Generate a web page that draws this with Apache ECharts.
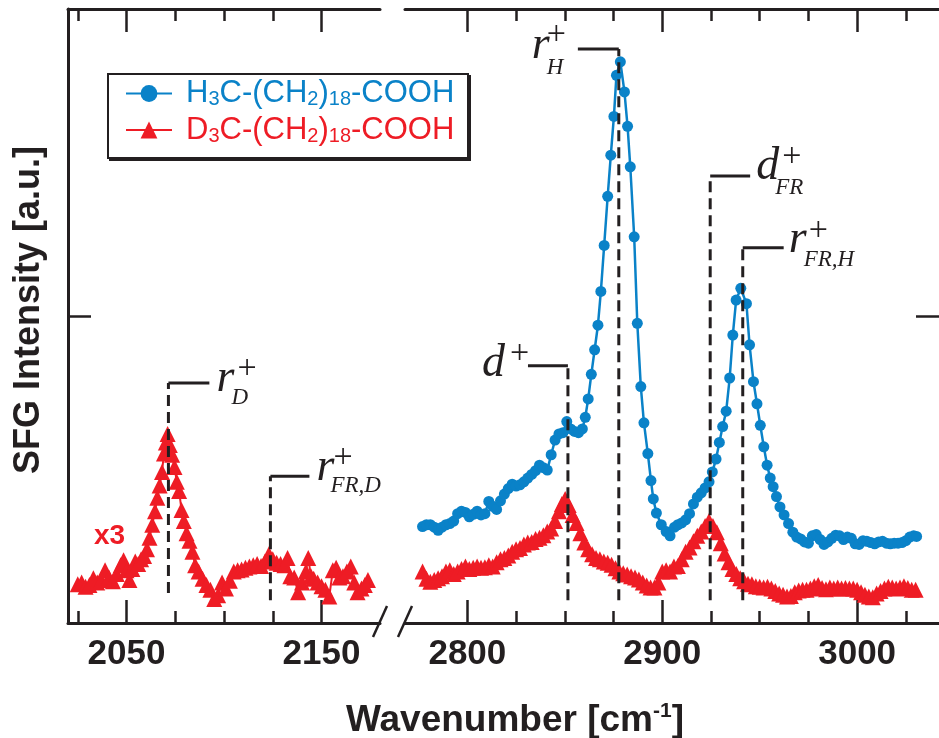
<!DOCTYPE html>
<html><head><meta charset="utf-8">
<script src="https://cdn.jsdelivr.net/npm/echarts@6/dist/echarts.min.js"></script>
<style>html,body{margin:0;padding:0;background:#fff}#c{width:939px;height:738px}</style>
</head><body><div id="c"></div>
<script>
// ---------------- data ----------------
const blueData = [
[2777,15.7],[2779,16.0],[2781,16.0],[2783,15.6],[2785,15.1],[2787,15.6],[2789,16.0],[2791,16.2],[2793,16.6],
[2795,17.8],[2797,18.2],[2799,18.0],[2801,17.3],[2803,17.7],[2805,18.2],[2807,17.6],[2809,17.8],[2811,19.8],
[2813,19.0],[2815,18.5],[2817,19.9],[2819,21.0],[2821,21.9],[2823,22.6],[2825,22.3],[2827,22.5],[2829,23.0],
[2831,23.6],[2833,24.2],[2835,24.8],[2837,25.7],[2839,25.3],[2841,24.9],[2843,27.4],[2845,29.8],[2847,30.8],
[2849,31.0],[2851,32.8],[2853,31.6],[2855,31.2],[2857,31.0],[2859,31.6],[2860.5,33.5],[2862,36.5],[2863.6,40.5],
[2865.3,44.5],[2867,48.5],[2868.5,54.0],[2870.2,61.5],[2872,69.5],[2873.6,76.2],[2875.2,82.5],[2876.5,89.2],
[2878.5,91.4],[2880.6,86.5],[2882.2,80.9],[2883.6,74.3],[2885.6,62.9],[2887.2,48.8],[2889,38.5],[2890.6,32.6],
[2892.6,27.6],[2894.2,23.2],[2895.4,20.2],[2897,17.9],[2899.5,16.0],[2902,14.9],[2904,14.2],[2906.3,15.6],
[2908,16.0],[2910,16.3],[2912,16.8],[2914,17.8],[2916,19.4],[2918,20.5],[2920,21.2],[2922,22.0],[2924,23.0],
[2925.7,24.6],[2927.6,26.7],[2929.3,29.4],[2931,32.0],[2932.8,34.5],[2934.6,39.9],[2936.2,46.9],[2937.9,52.6],
[2940.3,54.5],[2943.2,52.0],[2944.8,45.3],[2946.8,39.3],[2948.6,35.7],[2950.3,32.2],[2952.1,28.7],[2953.8,25.7],
[2955.4,23.6],[2956.9,22.2],[2958.6,20.6],[2960.4,18.9],[2962.5,17.6],[2964.8,16.2],[2967,14.8],[2969,14.0],
[2971,13.7],[2973,13.2],[2975,13.0],[2977,14.2],[2979,14.4],[2981,13.6],[2983,12.8],[2985,13.2],[2987,13.8],
[2989,14.3],[2991,14.2],[2993,13.6],[2995,14.0],[2997,13.8],[2999,12.9],[3001,12.8],[3003,13.4],[3005,13.3],
[3007,13.1],[3009,12.9],[3011,13.2],[3013,13.3],[3015,13.0],[3017,12.9],[3019,13.0],[3021,13.0],[3023,13.1],
[3025,13.4],[3027,14.0],[3029,14.2],[3030.5,14.1]
];
const redRightData = [
[2777,8.4],[2779,7.2],[2781,6.7],[2783,7.0],[2785,7.3],[2787,7.6],[2789,8.4],[2791,8.6],[2793,8.0],[2795,8.4],
[2797,8.8],[2799,9.2],[2801,8.8],[2803,9.0],[2805,9.2],[2807,9.0],[2809,9.1],[2811,9.4],[2813,9.2],[2815,9.9],
[2817,10.4],[2819,10.6],[2821,11.0],[2823,11.6],[2825,12.0],[2827,12.2],[2829,12.8],[2831,13.1],[2833,13.2],
[2835,13.7],[2837,13.9],[2839,14.3],[2841,14.9],[2843,15.4],[2845,16.6],[2847,18.2],[2848.5,19.4],[2850.2,20.2],
[2852,19.2],[2854,17.6],[2856,16.3],[2858,14.6],[2860,13.1],[2862,12.0],[2864,11.2],[2866,10.6],[2868,10.4],
[2870,10.0],[2872,9.8],[2874,9.5],[2876,8.9],[2878,8.4],[2880,8.1],[2882,7.9],[2884,7.6],[2886,7.4],[2888,7.1],
[2890,6.6],[2892,6.1],[2894,5.8],[2896,5.8],[2898,6.6],[2900,8.4],[2902,8.6],[2904,8.4],[2906,9.2],[2908,9.3],
[2910,10.4],[2912,11.6],[2914,12.3],[2916,13.3],[2918,14.2],[2920,14.9],[2922,15.8],[2924,16.6],[2926,15.8],
[2928,14.8],[2930,13.0],[2932,11.3],[2934,9.9],[2936,8.8],[2938,8.0],[2940,7.3],[2942,6.8],[2944,6.4],[2946,6.3],
[2948,6.0],[2950,5.9],[2952,5.8],[2954,5.9],[2956,5.6],[2958,5.2],[2960,4.8],[2962,4.6],[2964,4.3],[2966,4.4],
[2968,5.0],[2970,5.3],[2972,5.4],[2974,5.4],[2976,5.6],[2978,6.0],[2980,6.2],[2982,5.7],[2984,5.5],[2986,5.8],
[2988,5.6],[2990,5.8],[2992,5.6],[2994,5.7],[2996,5.6],[2998,5.6],[3000,5.4],[3002,5.0],[3004,4.6],[3006,4.3],
[3008,4.2],[3010,4.8],[3012,5.2],[3014,5.6],[3016,5.9],[3018,5.8],[3020,5.6],[3022,5.8],[3024,6.0],[3026,5.7],
[3028,5.4],[3030,5.4]
];
const redLeftData = [
[2025,6.3],[2027,6.6],[2029,5.9],[2031,6.2],[2033,7.3],[2035,6.6],[2037,7.0],[2039,8.6],[2041,7.4],[2043,6.8],
[2045,8.0],[2047,9.4],[2048.5,10.2],[2050,8.6],[2051.5,7.0],[2053,8.8],[2054.5,10.0],[2056,9.6],[2057.5,10.4],
[2059,10.9],[2060.5,12.0],[2061.8,13.9],[2063.2,16.0],[2064.6,18.2],[2065.8,20.4],[2067,22.4],[2068.2,24.6],
[2069.2,27.6],[2070.2,29.4],[2071.1,30.8],[2072.2,29.0],[2073.4,27.4],[2074.6,25.4],[2075.8,23.0],[2077,21.5],
[2078.2,18.4],[2079.4,16.6],[2080.8,14.6],[2082.3,13.4],[2083.8,11.6],[2085.2,9.4],[2087,8.4],[2089,7.2],
[2091,6.2],[2093,5.4],[2095,3.9],[2097,4.5],[2099,6.6],[2101,5.6],[2103,6.9],[2105,8.4],[2107,8.6],[2109,8.7],
[2111,9.0],[2113,9.2],[2115,9.4],[2117,9.6],[2119,9.3],[2121,10.0],[2123,11.2],[2125,10.4],[2127,9.8],[2129,9.6],
[2131,9.4],[2132.6,10.6],[2134,7.6],[2136,7.4],[2138,5.0],[2140,6.6],[2142,8.4],[2143.2,10.6],[2144.6,7.6],
[2146,7.2],[2148,6.6],[2150,6.0],[2152,5.4],[2154,4.3],[2155.8,8.6],[2157.5,9.0],[2159.2,7.4],[2161,7.6],
[2163,8.4],[2165,9.2],[2166.8,6.6],[2168.5,5.0],[2170.5,5.6],[2172.2,6.2],[2173.8,7.0]
];
const leftRange = [2020, 2180];
const rightRange = [2768, 3042];
const leftTicks = [2025, 2050, 2075, 2100, 2125, 2150];
const leftMajor = [2050, 2150];
const rightTicks = [2800, 2825, 2850, 2875, 2900, 2925, 2950, 2975, 3000, 3025];
const rightMajor = [2800, 2900, 3000];
const yRange = [0, 100];
const seriesNames = ['H3C', 'D3C'];
// bracket annotations: grid, wavenumber, top, bottom, direction, length (cm-1), text parts
const brackets = [
  {grid:0, wn:2071.5, top:39.1, bottom:4.9, dir:1,  len:21,   main:'r', sup:'+', sub:'D'},
  {grid:0, wn:2123.8, top:23.9, bottom:3.7, dir:1,  len:20,   main:'r', sup:'+', sub:'FR,D'},
  {grid:1, wn:2851.6, top:41.9, bottom:3.7, dir:-1, len:20.5, main:'d', sup:'+', sub:''},
  {grid:1, wn:2877.7, top:93.5, bottom:3.7, dir:-1, len:21,   main:'r', sup:'+', sub:'H'},
  {grid:1, wn:2924.6, top:72.8, bottom:3.7, dir:1,  len:20.5, main:'d', sup:'+', sub:'FR'},
  {grid:1, wn:2941.3, top:61.1, bottom:3.7, dir:1,  len:21,   main:'r', sup:'+', sub:'FR,H'}
];
// label layout offsets (pixels, relative to the free end of the bracket)
const bracketLayout = [
  {m:[7,-4.5],  p:[28,-14],   s:[22,15]},
  {m:[7,-8],    p:[24,-18],   s:[21,10]},
  {m:[-46,-1.5],p:[-18,-12],  s:[0,0]},
  {m:[-46,-3.5],p:[-31,-14],  s:[-31,19]},
  {m:[6,-9],    p:[32,-19],   s:[25,11.5]},
  {m:[5,-7.5],  p:[25,-17],   s:[20,12]}
];

// ---------------- chart ----------------
const INK = '#231f20', BLUE = '#0a82c8', RED = '#ee1c25';
const chart = echarts.init(document.getElementById('c'), null, {renderer: 'canvas'});

function mkX(gridIndex, range, position, ticks, len, labels, showLine) {
  return {
    type: 'value', gridIndex, min: range[0], max: range[1], position,
    axisLine: {show: showLine, onZero: false, lineStyle: {color: INK, width: 3}},
    axisTick: {show: true, inside: true, length: len, customValues: ticks, lineStyle: {color: INK, width: 2.5}},
    axisLabel: labels ? {show: true, customValues: labels, margin: 14, color: INK, fontSize: 35,
      fontWeight: 'bold', fontFamily: 'Liberation Sans', formatter: v => String(v)} : {show: false},
    splitLine: {show: false}
  };
}
function mkY(gridIndex, position, showLine) {
  return {
    type: 'value', gridIndex, min: yRange[0], max: yRange[1], interval: 50, position,
    axisLine: {show: showLine, onZero: false, lineStyle: {color: INK, width: 3}},
    axisTick: {show: true, inside: true, length: 23, lineStyle: {color: INK, width: 2.5}},
    axisLabel: {show: false}, splitLine: {show: false}
  };
}

const series = [
  {name: seriesNames[0], type: 'line', xAxisIndex: 4, yAxisIndex: 1, data: blueData,
   symbol: 'circle', symbolSize: 11, showAllSymbol: true, lineStyle: {color: BLUE, width: 2.5},
   itemStyle: {color: BLUE}, z: 3, silent: true},
  {name: seriesNames[1], type: 'line', xAxisIndex: 4, yAxisIndex: 1, data: redRightData,
   symbol: 'triangle', symbolSize: 16, showAllSymbol: true, lineStyle: {color: RED, width: 2},
   itemStyle: {color: RED}, z: 2, silent: true},
  {name: seriesNames[1], type: 'line', xAxisIndex: 0, yAxisIndex: 0, data: redLeftData,
   symbol: 'triangle', symbolSize: 16, showAllSymbol: true, lineStyle: {color: RED, width: 2},
   itemStyle: {color: RED}, z: 2, silent: true}
];
brackets.forEach((b, i) => {
  const xi = b.grid === 0 ? 0 : 4, yi = b.grid === 0 ? 0 : 1;
  series.push({name: 'bv' + i, type: 'line', xAxisIndex: xi, yAxisIndex: yi, symbol: 'none', silent: true, z: 5,
    data: [[b.wn, b.bottom], [b.wn, b.top]], lineStyle: {color: INK, width: 3, type: [11, 6]}});
  series.push({name: 'bh' + i, type: 'line', xAxisIndex: xi, yAxisIndex: yi, symbol: 'none', silent: true, z: 5,
    data: [[b.wn, b.top], [b.wn + b.dir * b.len, b.top]], lineStyle: {color: INK, width: 3}});
});

const option = {
  animation: false,
  backgroundColor: '#fff',
  textStyle: {fontFamily: 'Liberation Sans'},
  grid: [
    {left: 68, top: 9, width: 312, bottom: 115},
    {left: 405, top: 9, right: 0, bottom: 115}
  ],
  xAxis: [
    mkX(0, leftRange, 'bottom', leftTicks, 12, leftMajor, true),
    mkX(0, leftRange, 'bottom', leftMajor, 23, null, false),
    mkX(0, leftRange, 'top', leftTicks, 12, null, true),
    mkX(0, leftRange, 'top', leftMajor, 23, null, false),
    mkX(1, rightRange, 'bottom', rightTicks, 12, rightMajor, true),
    mkX(1, rightRange, 'bottom', rightMajor, 23, null, false),
    mkX(1, rightRange, 'top', rightTicks, 12, null, true),
    mkX(1, rightRange, 'top', rightMajor, 23, null, false)
  ],
  yAxis: [mkY(0, 'left', true), mkY(1, 'right', false)],
  legend: {
    data: seriesNames, orient: 'vertical', left: 108, top: 74, padding: [4, 15, 11, 17],
    itemGap: 5, itemWidth: 46, itemHeight: 21, selectedMode: false, z: 20,
    formatter: n => n === 'H3C'
      ? '{b|H}{bs|3}{b|C-(CH}{bs|2}{b|)}{bs|18}{b|-COOH}'
      : '{r|D}{rs|3}{r|C-(CH}{rs|2}{r|)}{rs|18}{r|-COOH}',
    textStyle: {
      padding: [0, 0, 0, 9],
      rich: {
        b: {color: BLUE, fontSize: 31, lineHeight: 32, fontFamily: 'Liberation Sans'},
        bs: {color: BLUE, fontSize: 20, lineHeight: 10, verticalAlign: 'bottom', fontFamily: 'Liberation Sans'},
        r: {color: RED, fontSize: 31, lineHeight: 32, fontFamily: 'Liberation Sans'},
        rs: {color: RED, fontSize: 20, lineHeight: 10, verticalAlign: 'bottom', fontFamily: 'Liberation Sans'}
      }
    }
  },
  series
};
chart.setOption(option);

// ---------------- annotations in data space ----------------
const toPx = (g, p) => chart.convertToPixel(g === 0 ? {xAxisIndex: 0, yAxisIndex: 0} : {xAxisIndex: 4, yAxisIndex: 1}, p);
const graphics = [];
// legend frame with offset shadow
graphics.push({type: 'rect', z: 15, silent: true, shape: {x: 109, y: 75, width: 362, height: 86}, style: {fill: INK}});
graphics.push({type: 'rect', z: 16, silent: true, shape: {x: 108, y: 74, width: 360, height: 84},
  style: {fill: '#fff', stroke: INK, lineWidth: 2}});
brackets.forEach((b, i) => {
  const e = toPx(b.grid, [b.wn + b.dir * b.len, b.top]);
  const L = bracketLayout[i];
  graphics.push({type: 'text', z: 10, x: e[0] + L.m[0], y: e[1] + L.m[1], silent: true,
    style: {text: b.main, fill: INK, font: 'italic 46px "Liberation Serif"', align: 'left', verticalAlign: 'middle'}});
  graphics.push({type: 'text', z: 10, x: e[0] + L.p[0], y: e[1] + L.p[1], silent: true,
    style: {text: b.sup, fill: INK, font: '34px "Liberation Serif"', align: 'left', verticalAlign: 'middle'}});
  if (b.sub) graphics.push({type: 'text', z: 10, x: e[0] + L.s[0], y: e[1] + L.s[1], silent: true,
    style: {text: b.sub, fill: INK, font: 'italic 23px "Liberation Serif"', align: 'left', verticalAlign: 'middle'}});
});
// "x3" note next to the scaled D-region trace
const x3 = toPx(0, [2041.3, 14.2]);
graphics.push({type: 'text', z: 10, x: x3[0], y: x3[1], silent: true,
  style: {text: 'x3', fill: RED, font: 'bold 28px "Liberation Sans"', align: 'center', verticalAlign: 'middle'}});
// axis break marks
const bl = toPx(0, [leftRange[1], yRange[0]]);
const br = toPx(1, [rightRange[0], yRange[0]]);
[bl, br].forEach(p => graphics.push({type: 'line', z: 10, silent: true,
  shape: {x1: p[0] + 7, y1: p[1] - 17, x2: p[0] - 7, y2: p[1] + 14},
  style: {stroke: INK, lineWidth: 2.5}}));
// axis titles
const yMid = (toPx(0, [leftRange[0], yRange[0]])[1] + toPx(0, [leftRange[0], yRange[1]])[1]) / 2;
graphics.push({type: 'text', z: 10, x: 29.5, y: yMid - 6, rotation: Math.PI / 2, silent: true,
  style: {text: 'SFG Intensity [a.u.]', fill: INK, font: 'bold 36px "Liberation Sans"', align: 'center', verticalAlign: 'middle'}});
graphics.push({type: 'text', z: 10, x: 515, y: 720.5, silent: true,
  style: {text: '{t|Wavenumber [cm}{s|-1}{t|]}', align: 'center', verticalAlign: 'middle',
    rich: {
      t: {fill: INK, fontSize: 37, fontWeight: 'bold', lineHeight: 40, fontFamily: 'Liberation Sans'},
      s: {fill: INK, fontSize: 21, fontWeight: 'bold', lineHeight: 10, verticalAlign: 'top', fontFamily: 'Liberation Sans'}
    }}});
chart.setOption({graphic: graphics});
</script>
</body></html>
